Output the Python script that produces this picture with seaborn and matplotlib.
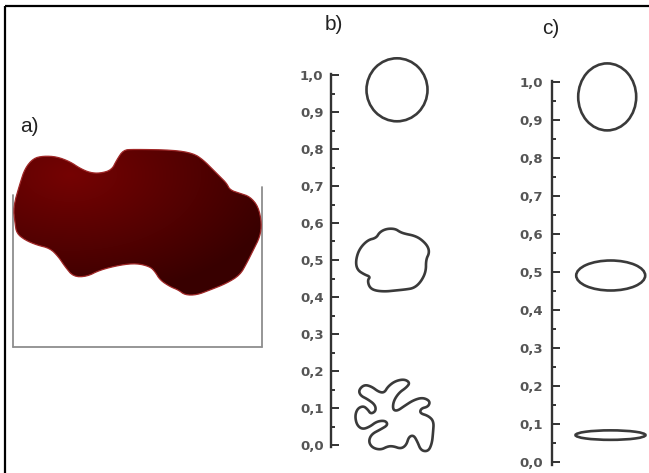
import numpy as np
import matplotlib
matplotlib.use("Agg")
import matplotlib.pyplot as plt
import seaborn as sns
from matplotlib.patches import Polygon, Ellipse
from matplotlib.ticker import MultipleLocator

sns.set_theme(style="white")
plt.rcParams['font.family'] = ['Liberation Sans', 'DejaVu Sans']

# ---------------- data ----------------
scale_ticks = [0.0, 0.1, 0.2, 0.3, 0.4, 0.5, 0.6, 0.7, 0.8, 0.9, 1.0]
tick_labels = ["0,0", "0,1", "0,2", "0,3", "0,4", "0,5", "0,6", "0,7", "0,8", "0,9", "1,0"]
panel_labels = ["a)", "b)", "c)"]
b_values = [0.96, 0.50, 0.08]      # circle, wavy blob, lobed blob
c_values = [0.96, 0.49, 0.07]      # circle, ellipse, flat ellipse

# outline traces (pixel units of the drawing)
blob_a_x = [45, 40, 60, 75, 100, 130, 170, 210, 240, 270, 300, 335, 350, 370, 400, 520, 580, 610,
            640, 660, 680, 690, 720, 750, 775, 785, 780, 760, 740, 720, 680, 630, 590, 555, 535,
            510, 480, 465, 450, 410, 360, 300, 260, 220, 195, 175, 150, 110, 75, 50]
blob_a_y = [400, 350, 280, 235, 205, 198, 200, 215, 235, 248, 250, 240, 210, 180, 178, 180, 190, 210,
            240, 260, 280, 300, 310, 320, 350, 400, 440, 480, 520, 555, 580, 600, 615, 615, 600,
            590, 570, 545, 530, 520, 525, 540, 560, 560, 530, 500, 475, 465, 450, 430]

blob_mid_x = [35, 45, 70, 95, 105, 125, 150, 165, 180, 205, 225, 245, 250, 240, 240, 225, 205, 180,
              150, 120, 90, 75, 70, 78, 60, 40]
blob_mid_y = [140, 105, 78, 72, 55, 45, 45, 55, 60, 65, 75, 95, 115, 135, 170, 200, 218, 222,
              225, 228, 225, 215, 195, 185, 178, 165]

blob_low_x = [45, 60, 80, 100, 115, 125, 145, 170, 185, 175, 155, 140, 138, 150, 170, 195, 220, 240,
              235, 215, 212, 235, 250, 248, 245, 235, 215, 205, 195, 182, 175, 160, 140, 125, 105,
              82, 72, 80, 105, 125, 118, 95, 75, 55, 40, 35, 42, 58, 70, 78, 92, 90, 70, 50]
blob_low_y = [65, 50, 55, 70, 72, 55, 40, 35, 45, 58, 72, 95, 118, 122, 108, 92, 85, 95,
              110, 115, 128, 135, 150, 180, 210, 232, 230, 205, 188, 192, 215, 225, 218, 218, 228,
              222, 205, 185, 172, 160, 148, 150, 165, 172, 160, 135, 115, 108, 118, 130, 122, 105, 90, 80]

W, H = 649, 473


def chaikin(pts, n=3):
    p = np.asarray(pts, float)
    for _ in range(n):
        nxt = np.roll(p, -1, axis=0)
        q = 0.75 * p + 0.25 * nxt
        r = 0.25 * p + 0.75 * nxt
        out = np.empty((2 * len(p), 2))
        out[0::2] = q
        out[1::2] = r
        p = out
    return p


fig = plt.figure(figsize=(W / 100, H / 100), dpi=100)
fig.patch.set_facecolor("white")

# background canvas in pixel units (y up)
canvas = fig.add_axes([0, 0, 1, 1], zorder=0)
canvas.set_xlim(0, W)
canvas.set_ylim(0, H)
canvas.axis("off")

# frame lines (top and left)
canvas.plot([5, 5], [0, 466.5], color="black", lw=1.6, solid_capstyle="butt")
canvas.plot([5, W], [466.5, 466.5], color="black", lw=1.6, solid_capstyle="butt")

# ---------------- panel a ----------------
ax_pts = np.column_stack([np.array(blob_a_x) / 3.0, H - (90 + np.array(blob_a_y) / 3.0)])
ax_pts = chaikin(ax_pts, 2)
poly_a = Polygon(ax_pts, closed=True, facecolor="none", edgecolor="#a02828", lw=0.9, zorder=3)
canvas.add_patch(poly_a)
x0, x1 = ax_pts[:, 0].min() - 2, ax_pts[:, 0].max() + 2
y0, y1 = ax_pts[:, 1].min() - 2, ax_pts[:, 1].max() + 2
gx = np.linspace(x0, x1, 300)
gy = np.linspace(y0, y1, 200)
GX, GY = np.meshgrid(gx, gy)
ydown = H - GY
d = np.sqrt(((GX - 70) / 215.0) ** 2 + ((ydown - 175) / 125.0) ** 2)
t = np.clip(d, 0, 1)[..., None]
c0 = np.array([0.46, 0.01, 0.01])
c1 = np.array([0.22, 0.0, 0.0])
img = (1 - t) * c0 + t * c1
im = canvas.imshow(img, extent=(x0, x1, y0, y1), origin="lower", aspect="auto", zorder=2,
                   interpolation="bilinear")
im.set_clip_path(poly_a)
canvas.set_xlim(0, W)
canvas.set_ylim(0, H)

# container bracket
gray = "#8e8e8e"
canvas.plot([13, 13], [H - 195, H - 347], color=gray, lw=1.3)
canvas.plot([261.5, 261.5], [H - 187, H - 347], color=gray, lw=1.3)
canvas.plot([13, 261.5], [H - 346.5, H - 346.5], color=gray, lw=1.3)

# panel labels
canvas.text(20, H - 127, panel_labels[0], fontsize=15, color="#222222", ha="left", va="center")
canvas.text(325, H - 24.5, panel_labels[1], fontsize=15, color="#222222", ha="left", va="center")
canvas.text(542, H - 28.5, panel_labels[2], fontsize=15, color="#222222", ha="left", va="center")


# ---------------- scales b and c ----------------
def make_scale(spine_x, y_zero, px_per_unit, ymin, ymax, pad):
    bottom = y_zero - (0 - ymin) * px_per_unit
    top = y_zero + (ymax - 0) * px_per_unit
    ax = fig.add_axes([spine_x / W, bottom / H, 20 / W, (top - bottom) / H], zorder=2)
    ax.set_facecolor("none")
    ax.set_xlim(0, 1)
    ax.set_ylim(ymin, ymax)
    sns.despine(ax=ax, left=False, bottom=True, right=True, top=True)
    ax.spines["left"].set_color("#333333")
    ax.spines["left"].set_linewidth(1.7)
    ax.set_xticks([])
    ax.set_yticks(scale_ticks, labels=tick_labels)
    ax.yaxis.set_minor_locator(MultipleLocator(0.05))
    ax.tick_params(axis="y", which="major", direction="in", length=5.8, width=1.4,
                   color="#333333", labelsize=9.5, labelcolor="#555555", pad=pad, left=True)
    ax.tick_params(axis="y", which="minor", direction="in", length=3.2, width=1.4,
                   color="#333333", left=True)
    for lab in ax.get_yticklabels():
        lab.set_fontweight("bold")
        lab.set_family(["DejaVu Sans"])
    return ax


# y_zero in y-up pixels
axb = make_scale(330.5, H - 445.0, 370.0, -0.006, 1.003, 5.0)
axc = make_scale(551.7, H - 461.7, 380.0, -0.009, 1.003, 6.0)

fig.canvas.draw()
line_c = "#3a3a3a"
lw_shape = 1.9


def center_of(ax, value, dx):
    cx, cy = ax.transData.transform((0, value))
    return cx + dx, cy


def place_trace(xs, ys, value, ax, dx, grow=1.0):
    pts = np.column_stack([np.array(xs) / 3.0, -np.array(ys) / 3.0])
    pts = chaikin(pts, 3)
    mid = (pts.min(axis=0) + pts.max(axis=0)) / 2
    cx, cy = center_of(ax, value, dx)
    pts = (pts - mid) * grow + np.array([cx, cy])
    canvas.add_patch(Polygon(pts, closed=True, facecolor="none", edgecolor=line_c,
                             lw=lw_shape, zorder=4))


# b shapes
cx, cy = center_of(axb, b_values[0], 66.5)
canvas.add_patch(Ellipse((cx, cy), 61, 63, facecolor="none", edgecolor=line_c, lw=lw_shape, zorder=4))
place_trace(blob_mid_x, blob_mid_y, b_values[1], axb, 62.0, 1.03)
place_trace(blob_low_x, blob_low_y, b_values[2], axb, 64.0, 1.1)

# c shapes
cx, cy = center_of(axc, c_values[0], 55.5)
canvas.add_patch(Ellipse((cx, cy), 58, 67, facecolor="none", edgecolor=line_c, lw=lw_shape, zorder=4))
cx, cy = center_of(axc, c_values[1], 59.0)
canvas.add_patch(Ellipse((cx, cy), 69, 30, facecolor="none", edgecolor=line_c, lw=lw_shape, zorder=4))
cx, cy = center_of(axc, c_values[2], 58.8)
canvas.add_patch(Ellipse((cx, cy), 70, 9.5, facecolor="none", edgecolor=line_c, lw=lw_shape, zorder=4))

fig.savefig("out.png", dpi=100, facecolor="white")
